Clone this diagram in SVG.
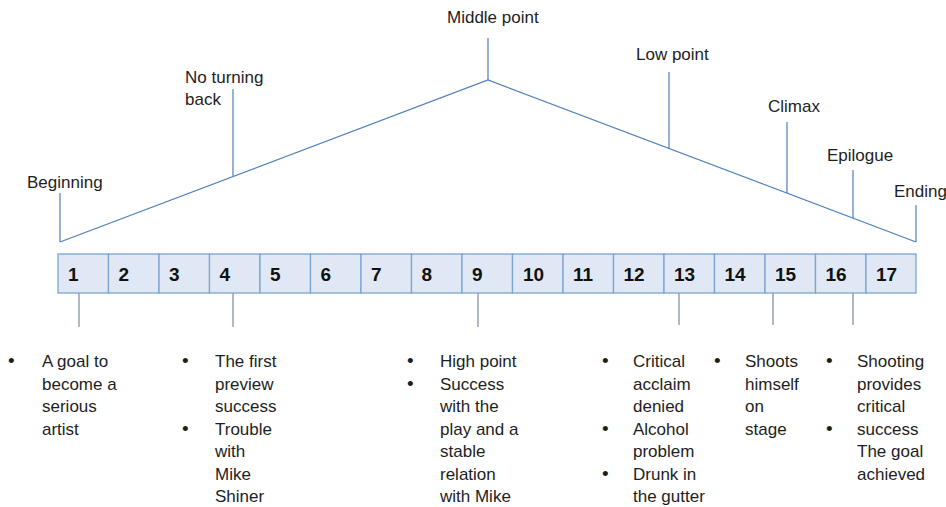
<svg xmlns="http://www.w3.org/2000/svg" width="946" height="507" viewBox="0 0 946 507">
<style>
text{font-family:"Liberation Sans",Arial,sans-serif;font-size:17px;fill:#1e1e1e}
.num{font-weight:bold;font-size:19px;fill:#111}
.b{font-size:19px}
.cell{fill:#dfe8f4;stroke:#7da3d1;stroke-width:1.3}
.ln{stroke:#4f7fb8;stroke-width:1.2;fill:none}
.tk{stroke:#6f7f94;stroke-width:1.1;fill:none}
</style>
<rect width="946" height="507" fill="#fff"/>
<g id="connectors">
<polyline class="ln" points="60,242 488,80 916,242"/>
<line class="ln" x1="60" y1="193" x2="60" y2="242"/>
<line class="ln" x1="233" y1="89" x2="233" y2="176"/>
<line class="ln" x1="488" y1="38" x2="488" y2="80"/>
<line class="ln" x1="669" y1="72" x2="669" y2="149"/>
<line class="ln" x1="787" y1="122" x2="787" y2="193"/>
<line class="ln" x1="853" y1="170" x2="853" y2="218"/>
<line class="ln" x1="916" y1="205" x2="916" y2="242"/>
<line class="tk" x1="79" y1="293" x2="79" y2="327"/>
<line class="tk" x1="233" y1="293" x2="233" y2="327"/>
<line class="tk" x1="478" y1="293" x2="478" y2="327"/>
<line class="tk" x1="679" y1="293" x2="679" y2="325"/>
<line class="tk" x1="773" y1="293" x2="773" y2="325"/>
<line class="tk" x1="853" y1="293" x2="853" y2="325"/>
</g>
<g id="labels-top">
<text x="27" y="188">Beginning</text>
<text x="185" y="83">No turning</text>
<text x="185" y="105">back</text>
<text x="447" y="23">Middle point</text>
<text x="636" y="60">Low point</text>
<text x="768" y="112">Climax</text>
<text x="827" y="161">Epilogue</text>
<text x="894" y="197">Ending</text>
</g>
<g id="timeline">
<rect class="cell" x="58" y="254" width="50.5" height="39"/>
<rect class="cell" x="108.5" y="254" width="50.5" height="39"/>
<rect class="cell" x="159" y="254" width="50.5" height="39"/>
<rect class="cell" x="209.5" y="254" width="50.5" height="39"/>
<rect class="cell" x="260" y="254" width="50.5" height="39"/>
<rect class="cell" x="310.5" y="254" width="50.5" height="39"/>
<rect class="cell" x="361" y="254" width="50.5" height="39"/>
<rect class="cell" x="411.5" y="254" width="50.5" height="39"/>
<rect class="cell" x="462" y="254" width="50.5" height="39"/>
<rect class="cell" x="512.5" y="254" width="50.5" height="39"/>
<rect class="cell" x="563" y="254" width="50.5" height="39"/>
<rect class="cell" x="613.5" y="254" width="50.5" height="39"/>
<rect class="cell" x="664" y="254" width="50.5" height="39"/>
<rect class="cell" x="714.5" y="254" width="50.5" height="39"/>
<rect class="cell" x="765" y="254" width="50.5" height="39"/>
<rect class="cell" x="815.5" y="254" width="50.5" height="39"/>
<rect class="cell" x="866" y="254" width="50" height="39"/>
<text class="num" x="68" y="281">1</text>
<text class="num" x="118.5" y="281">2</text>
<text class="num" x="169" y="281">3</text>
<text class="num" x="219.5" y="281">4</text>
<text class="num" x="270" y="281">5</text>
<text class="num" x="320.5" y="281">6</text>
<text class="num" x="371" y="281">7</text>
<text class="num" x="421.5" y="281">8</text>
<text class="num" x="472" y="281">9</text>
<text class="num" x="523" y="281">10</text>
<text class="num" x="573" y="281">11</text>
<text class="num" x="623.5" y="281">12</text>
<text class="num" x="674" y="281">13</text>
<text class="num" x="724.5" y="281">14</text>
<text class="num" x="775" y="281">15</text>
<text class="num" x="825.5" y="281">16</text>
<text class="num" x="876" y="281">17</text>
</g>
<g id="notes-1">
<text class="b" x="8" y="367">•</text>
<text x="42" y="367">A goal to</text>
<text x="42" y="389.5">become a</text>
<text x="42" y="412">serious</text>
<text x="42" y="434.5">artist</text>
</g>
<g id="notes-4">
<text class="b" x="182" y="367">•</text>
<text class="b" x="182" y="434.5">•</text>
<text x="215" y="367">The first</text>
<text x="215" y="389.5">preview</text>
<text x="215" y="412">success</text>
<text x="215" y="434.5">Trouble</text>
<text x="215" y="457">with</text>
<text x="215" y="479.5">Mike</text>
<text x="215" y="502">Shiner</text>
</g>
<g id="notes-9">
<text class="b" x="407" y="367">•</text>
<text class="b" x="407" y="389.5">•</text>
<text x="440" y="367">High point</text>
<text x="440" y="389.5">Success</text>
<text x="440" y="412">with the</text>
<text x="440" y="434.5">play and a</text>
<text x="440" y="457">stable</text>
<text x="440" y="479.5">relation</text>
<text x="440" y="502">with Mike</text>
</g>
<g id="notes-13">
<text class="b" x="602" y="367">•</text>
<text class="b" x="602" y="434.5">•</text>
<text class="b" x="602" y="479.5">•</text>
<text x="633" y="367">Critical</text>
<text x="633" y="389.5">acclaim</text>
<text x="633" y="412">denied</text>
<text x="633" y="434.5">Alcohol</text>
<text x="633" y="457">problem</text>
<text x="633" y="479.5">Drunk in</text>
<text x="633" y="502">the gutter</text>
</g>
<g id="notes-15">
<text class="b" x="714" y="367">•</text>
<text x="745" y="367">Shoots</text>
<text x="745" y="389.5">himself</text>
<text x="745" y="412">on</text>
<text x="745" y="434.5">stage</text>
</g>
<g id="notes-16">
<text class="b" x="826" y="367">•</text>
<text class="b" x="826" y="434.5">•</text>
<text x="857" y="367">Shooting</text>
<text x="857" y="389.5">provides</text>
<text x="857" y="412">critical</text>
<text x="857" y="434.5">success</text>
<text x="857" y="457">The goal</text>
<text x="857" y="479.5">achieved</text>
</g>
</svg>
